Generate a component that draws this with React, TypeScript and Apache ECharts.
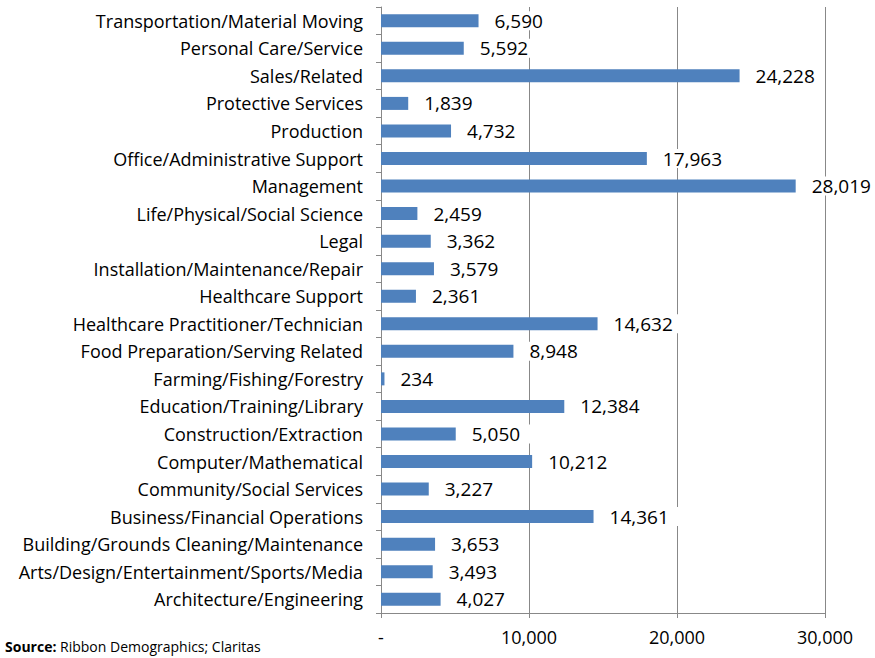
import React, { useEffect, useRef } from "react";
import * as echarts from "echarts";

const categories = [
  "Architecture/Engineering",
  "Arts/Design/Entertainment/Sports/Media",
  "Building/Grounds Cleaning/Maintenance",
  "Business/Financial Operations",
  "Community/Social Services",
  "Computer/Mathematical",
  "Construction/Extraction",
  "Education/Training/Library",
  "Farming/Fishing/Forestry",
  "Food Preparation/Serving Related",
  "Healthcare Practitioner/Technician",
  "Healthcare Support",
  "Installation/Maintenance/Repair",
  "Legal",
  "Life/Physical/Social Science",
  "Management",
  "Office/Administrative Support",
  "Production",
  "Protective Services",
  "Sales/Related",
  "Personal Care/Service",
  "Transportation/Material Moving",
];

const values = [
  4027, 3493, 3653, 14361, 3227, 10212, 5050, 12384, 234, 8948, 14632, 2361,
  3579, 3362, 2459, 28019, 17963, 4732, 1839, 24228, 5592, 6590,
];

const xTicks = { min: 0, max: 30000, interval: 10000 };
const sourceLabel = "Source:";
const sourceText = " Ribbon Demographics; Claritas";

const FONT = "'Open Sans', sans-serif";

export default function App() {
  const ref = useRef<HTMLDivElement>(null);
  useEffect(() => {
    if (!ref.current) return;
    const chart = echarts.init(ref.current, undefined, { renderer: "svg" });
    chart.setOption({
      animation: false,
      textStyle: { fontFamily: FONT },
      grid: { left: 381, right: 50, top: 7, bottom: 45, containLabel: false },
      xAxis: {
        type: "value",
        min: xTicks.min,
        max: xTicks.max,
        interval: xTicks.interval,
        axisLine: { show: true, lineStyle: { color: "#888888", width: 1 } },
        axisTick: { show: true, length: 5, lineStyle: { color: "#888888" } },
        splitLine: { show: true, lineStyle: { color: "#888888", width: 1 } },
        axisLabel: {
          color: "#000",
          fontSize: 18,
          fontFamily: FONT,
          margin: 15,
          formatter: (v: number) => (v === 0 ? "-" : v.toLocaleString("en-US")),
        },
      },
      yAxis: {
        type: "category",
        data: categories,
        axisLine: { show: true, lineStyle: { color: "#888888", width: 1 } },
        axisTick: { show: true, length: 5, alignWithLabel: false, lineStyle: { color: "#888888" } },
        axisLabel: { color: "#000", fontSize: 18, fontFamily: FONT, margin: 18 },
      },
      series: [
        {
          type: "bar",
          data: values,
          barWidth: 13,
          itemStyle: { color: "#4F81BD" },
          label: {
            show: true,
            position: "right",
            distance: 6,
            color: "#000",
            fontSize: 19,
            fontFamily: FONT,
            backgroundColor: "#ffffff",
            padding: [0, 10],
            formatter: (p: any) => Number(p.value).toLocaleString("en-US"),
          },
        },
      ],
      graphic: [
        {
          type: "text",
          left: 5,
          top: 639,
          style: {
            rich: {
              b: { fontWeight: "bold", fontSize: 14, fontFamily: FONT, fill: "#000" },
              n: { fontSize: 14, fontFamily: FONT, fill: "#000" },
            },
            text: `{b|${sourceLabel}}{n|${sourceText}}`,
          },
        },
      ],
    });
    return () => chart.dispose();
  }, []);
  return <div ref={ref} style={{ width: 875, height: 658, position: "absolute", left: 0, top: 0 }} />;
}
